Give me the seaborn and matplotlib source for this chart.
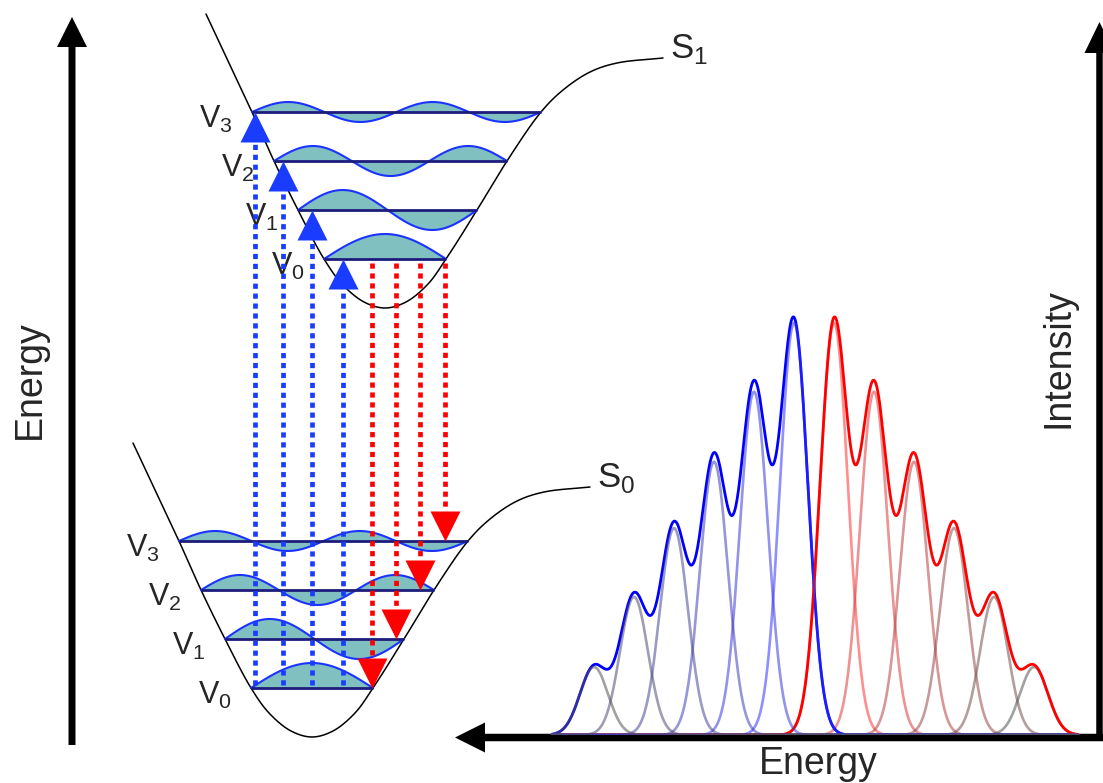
import numpy as np
import matplotlib
matplotlib.use("Agg")
import matplotlib.pyplot as plt
import seaborn as sns

sns.set_theme(style="white")
plt.rcParams["font.family"] = ["Liberation Sans", "DejaVu Sans"]
plt.rcParams["mathtext.fontset"] = "custom"
plt.rcParams["mathtext.rm"] = "Liberation Sans"

# ---- Franck-Condon diagram data (nuclear coordinate q, energy E) ----
# potential-well shape, relative to the well minimum
pot_dq = [-179, -133, -111, -87, -61, -43, -21, 0, 21, 43, 61, 92, 122, 156, 178, 205, 232, 278]
pot_dE = [294, 196, 147, 98, 49, 24, 6, 0, 6, 24, 49, 98, 147, 196, 218, 236, 245, 250]
# well minima of the ground (S0) and excited (S1) electronic states
s0_min = (312, 46)
s1_min = (385, 475)
# vibrational levels above each minimum and wavefunction amplitudes
level_dE = [49, 98, 147, 196]
wave_amp = [25, 20, 15, 10]
level_names = ["V$_0$", "V$_1$", "V$_2$", "V$_3$"]
# vertical transitions: absorption from S0 v=0, emission from S1 v=0
abs_q = [255, 283, 312, 343]
abs_to = [3, 2, 1, 0]
em_q = [372, 396, 420, 445]
em_to = [0, 1, 2, 3]

# ---- spectrum data ----
abs_energy = [20, 21, 22, 23, 24, 25]
abs_int = [1.0, 0.833, 0.663, 0.502, 0.335, 0.165]
em_energy = [19, 18, 17, 16, 15, 14]
em_int = [1.0, 0.833, 0.663, 0.502, 0.335, 0.165]
band_sigma = 0.35

TEAL = "#80c0c0"
WAVE = "#1a33ff"
LEVEL = "#1c1c7c"
BLUE = "#1a3cff"
RED = "#ff0000"


def catmull_rom(points, n=24):
    """Centripetal Catmull-Rom spline through the given points."""
    P = np.asarray(points, float)
    P = np.vstack([2 * P[0] - P[1], P, 2 * P[-1] - P[-2]])
    out = []
    for i in range(1, len(P) - 2):
        p0, p1, p2, p3 = P[i - 1:i + 3]
        t0 = 0.0
        t1 = t0 + np.linalg.norm(p1 - p0) ** 0.5
        t2 = t1 + np.linalg.norm(p2 - p1) ** 0.5
        t3 = t2 + np.linalg.norm(p3 - p2) ** 0.5
        t = np.linspace(t1, t2, n)[:, None]
        a1 = (t1 - t) / (t1 - t0) * p0 + (t - t0) / (t1 - t0) * p1
        a2 = (t2 - t) / (t2 - t1) * p1 + (t - t1) / (t2 - t1) * p2
        a3 = (t3 - t) / (t3 - t2) * p2 + (t - t2) / (t3 - t2) * p3
        b1 = (t2 - t) / (t2 - t0) * a1 + (t - t0) / (t2 - t0) * a2
        b2 = (t3 - t) / (t3 - t1) * a2 + (t - t1) / (t3 - t1) * a3
        c = (t2 - t) / (t2 - t1) * b1 + (t - t1) / (t2 - t1) * b2
        out.append(c if i == len(P) - 3 else c[:-1])
    return np.vstack(out)


fig = plt.figure(figsize=(11.03, 7.83), dpi=100)
ax = fig.add_axes([0, 0, 1, 1])
ax.set_xlim(0, 1103)
ax.set_ylim(0, 783)
ax.set_axis_off()
ax.set_zorder(1)

shape = catmull_rom(list(zip(pot_dq, pot_dE)))
left = shape[shape[:, 0] <= 0]
right = shape[shape[:, 0] >= 0]


def level_span(e):
    ql = np.interp(e, left[::-1, 1], left[::-1, 0])
    qr = np.interp(e, np.maximum.accumulate(right[:, 1]), right[:, 0])
    return ql, qr


def draw_state(q0, e0, name, end_dx, end_dE):
    curve_q = shape[:, 0] + q0
    curve_e = shape[:, 1] + e0
    sns.lineplot(x=curve_q, y=curve_e, sort=False, estimator=None,
                 color="black", lw=1.1, ax=ax, zorder=2)
    ax.text(curve_q[-1] + end_dx, curve_e[-1] + end_dE, name,
            fontsize=25, ha="left", va="center", zorder=2)
    levels = []
    for n, (de, amp) in enumerate(zip(level_dE, wave_amp)):
        ql, qr = level_span(de)
        qs = np.linspace(ql, qr, 300)
        psi = amp * np.sin((n + 1) * np.pi * (qs - ql) / (qr - ql))
        e = e0 + de
        ax.fill_between(qs + q0, e, e + psi, color=TEAL, lw=0, zorder=3)
        sns.lineplot(x=qs + q0, y=e + psi, color=WAVE, lw=1.5, ax=ax, zorder=4)
        ax.plot([ql + q0, qr + q0], [e, e], color=LEVEL, lw=2.0,
                solid_capstyle="butt", zorder=5)
        ax.text(ql + q0 - 19, e - 7, level_names[n], fontsize=22,
                ha="right", va="center", zorder=2)
        levels.append(e)
    return levels


s0_levels = draw_state(*s0_min, "S$_0$", 7, 9)
s1_levels = draw_state(*s1_min, "S$_1$", 7, 9)

head = 30
dots = dict(lw=3.4, linestyle=(0, (1.1, 1.0)), dash_capstyle="butt", zorder=6)
ms = head * 0.72
for q, lv in zip(abs_q, abs_to):
    top = s1_levels[lv]
    ax.plot([q, q], [s0_levels[0] + 3, top - head], color=BLUE, **dots)
    ax.plot(q, top - head / 2, marker="^", ms=ms, color=BLUE, mec="none", zorder=7)
for q, lv in zip(em_q, em_to):
    bottom = s0_levels[lv]
    ax.plot([q, q], [s1_levels[0] - 4, bottom + head], color=RED, **dots)
    ax.plot(q, bottom + head / 2, marker="v", ms=ms, color=RED, mec="none", zorder=7)

# axis arrows
arrow = dict(length_includes_head=True, fc="black", ec="none", zorder=8)
ax.arrow(72, 38, 0, 728, width=7, head_width=30, head_length=30, **arrow)
ax.arrow(1099.5, 42, 0, 719, width=6.5, head_width=30, head_length=31, **arrow)
ax.arrow(1103, 45.5, -648, 0, width=7.5, head_width=30, head_length=30, **arrow)

ax.text(30, 403, "Energy", fontsize=27, rotation=90, ha="center", va="center")
ax.text(818, 9, "Energy", fontsize=27, ha="center", va="baseline")
ax.text(1058, 425, "Intensity", fontsize=27, rotation=90, ha="center", va="center")

# ---- absorption / emission spectrum ----
sax = fig.add_axes([455 / 1103, 48 / 783, 648 / 1103, 735 / 783])
sax.set_zorder(2)
sax.patch.set_alpha(0)
sax.set_xlim(28.475, 12.275)
sax.set_ylim(0, 735 / 412)
sax.set_axis_off()

grid = np.linspace(12.9, 26.05, 1200)


def band(center, height):
    return height * np.exp(-0.5 * ((grid - center) / band_sigma) ** 2)


grey = np.array([0.33, 0.33, 0.33])
# absorption bands are drawn over their envelope, emission bands under it
for energies, heights, hue, line, comp_z in [
    (abs_energy, abs_int, np.array([0.2, 0.2, 1.0]), "#0000ff", 4),
    (em_energy, em_int, np.array([1.0, 0.2, 0.2]), "#ff0000", 1),
]:
    total = np.zeros_like(grid)
    for k, (c, h) in enumerate(zip(energies, heights)):
        comp = band(c, h)
        total += comp
        t = k / (len(energies) - 1)
        col = (1 - t) * hue + t * grey
        sns.lineplot(x=grid, y=comp, color=col, alpha=0.55, lw=1.9, ax=sax,
                     zorder=comp_z)
    sns.lineplot(x=grid, y=total, color=line, lw=2.0, ax=sax, zorder=3)

fig.savefig("out.png", dpi=100)
